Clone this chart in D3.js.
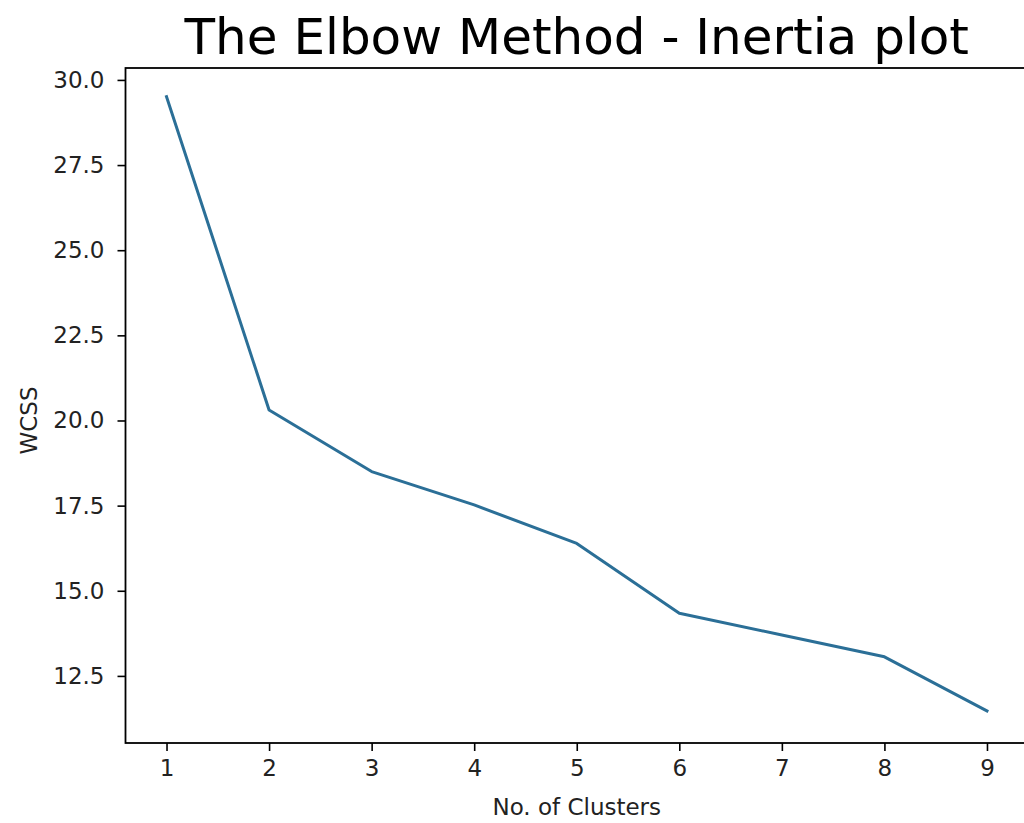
<!DOCTYPE html>
<html>
<head>
<meta charset="utf-8">
<script src="https://cdn.jsdelivr.net/npm/d3@7"></script>
<style>
  body { margin: 0; background: #fff; }
  svg text { font-family: "DejaVu Sans", sans-serif; fill: #222; }
</style>
</head>
<body>
<div id="chart-area"></div>
<script>
// chart data
var clusters = [1, 2, 3, 4, 5, 6, 7, 8, 9];
var wcss = [29.51, 20.31, 18.50, 17.52, 16.39, 14.34, 13.70, 13.06, 11.47];
var yTicks = [12.5, 15.0, 17.5, 20.0, 22.5, 25.0, 27.5, 30.0];

// SVG size
var width = 1024,
    height = 823;

// plot frame (the right edge sits just off the canvas, as in the picture)
var plotLeft = 125.5, plotRight = 1028, plotTop = 68, plotBottom = 743;

var svg = d3.select("#chart-area").append("svg")
    .attr("width", width)
    .attr("height", height);

var xScale = d3.scaleLinear()
    .domain([0.6, 9.4])
    .range([plotLeft, plotRight]);

var yScale = d3.scaleLinear()
    .domain([10.53, 30.35])
    .range([plotBottom, plotTop]);

var line = d3.line()
    .x(function(d, i){ return xScale(clusters[i]); })
    .y(function(d){ return yScale(d); });

svg.append("path")
    .datum(wcss)
    .attr("fill", "none")
    .attr("stroke", "#2b6f97")
    .attr("stroke-width", 3)
    .attr("stroke-linejoin", "round")
    .attr("stroke-linecap", "square")
    .attr("d", line);

var xAxis = d3.axisBottom(xScale)
    .tickValues(clusters)
    .tickFormat(d3.format("d"))
    .tickSize(8)
    .tickPadding(9)
    .tickSizeOuter(0);

var yAxis = d3.axisLeft(yScale)
    .tickValues(yTicks)
    .tickFormat(d3.format(".1f"))
    .tickSize(8)
    .tickPadding(13)
    .tickSizeOuter(0);

var gx = svg.append("g")
    .attr("class", "axis x-axis")
    .attr("transform", "translate(0," + plotBottom + ")")
    .call(xAxis);

var gy = svg.append("g")
    .attr("class", "axis y-axis")
    .attr("transform", "translate(" + plotLeft + ",0)")
    .call(yAxis);

[gx, gy].forEach(function(g){
    g.select(".domain").remove();
    g.selectAll(".tick line").attr("stroke", "#000").attr("stroke-width", 1.6);
    g.selectAll(".tick text")
        .attr("font-family", "DejaVu Sans")
        .attr("font-size", 23)
        .attr("fill", "#222");
});

// spines
svg.append("rect")
    .attr("x", plotLeft)
    .attr("y", plotTop)
    .attr("width", plotRight - plotLeft)
    .attr("height", plotBottom - plotTop)
    .attr("fill", "none")
    .attr("stroke", "#000")
    .attr("stroke-width", 1.8);

svg.append("text")
    .attr("text-anchor", "middle")
    .attr("x", (plotLeft + plotRight) / 2)
    .attr("y", 54)
    .attr("font-size", 50)
    .style("fill", "#000")
    .text("The Elbow Method - Inertia plot");

svg.append("text")
    .attr("text-anchor", "middle")
    .attr("x", (plotLeft + plotRight) / 2)
    .attr("y", 815)
    .attr("font-size", 23)
    .text("No. of Clusters");

svg.append("text")
    .attr("text-anchor", "middle")
    .attr("transform", "translate(37," + ((plotTop + plotBottom) / 2 + 15) + ") rotate(-90)")
    .attr("font-size", 23)
    .text("WCSS");
</script>
</body>
</html>
